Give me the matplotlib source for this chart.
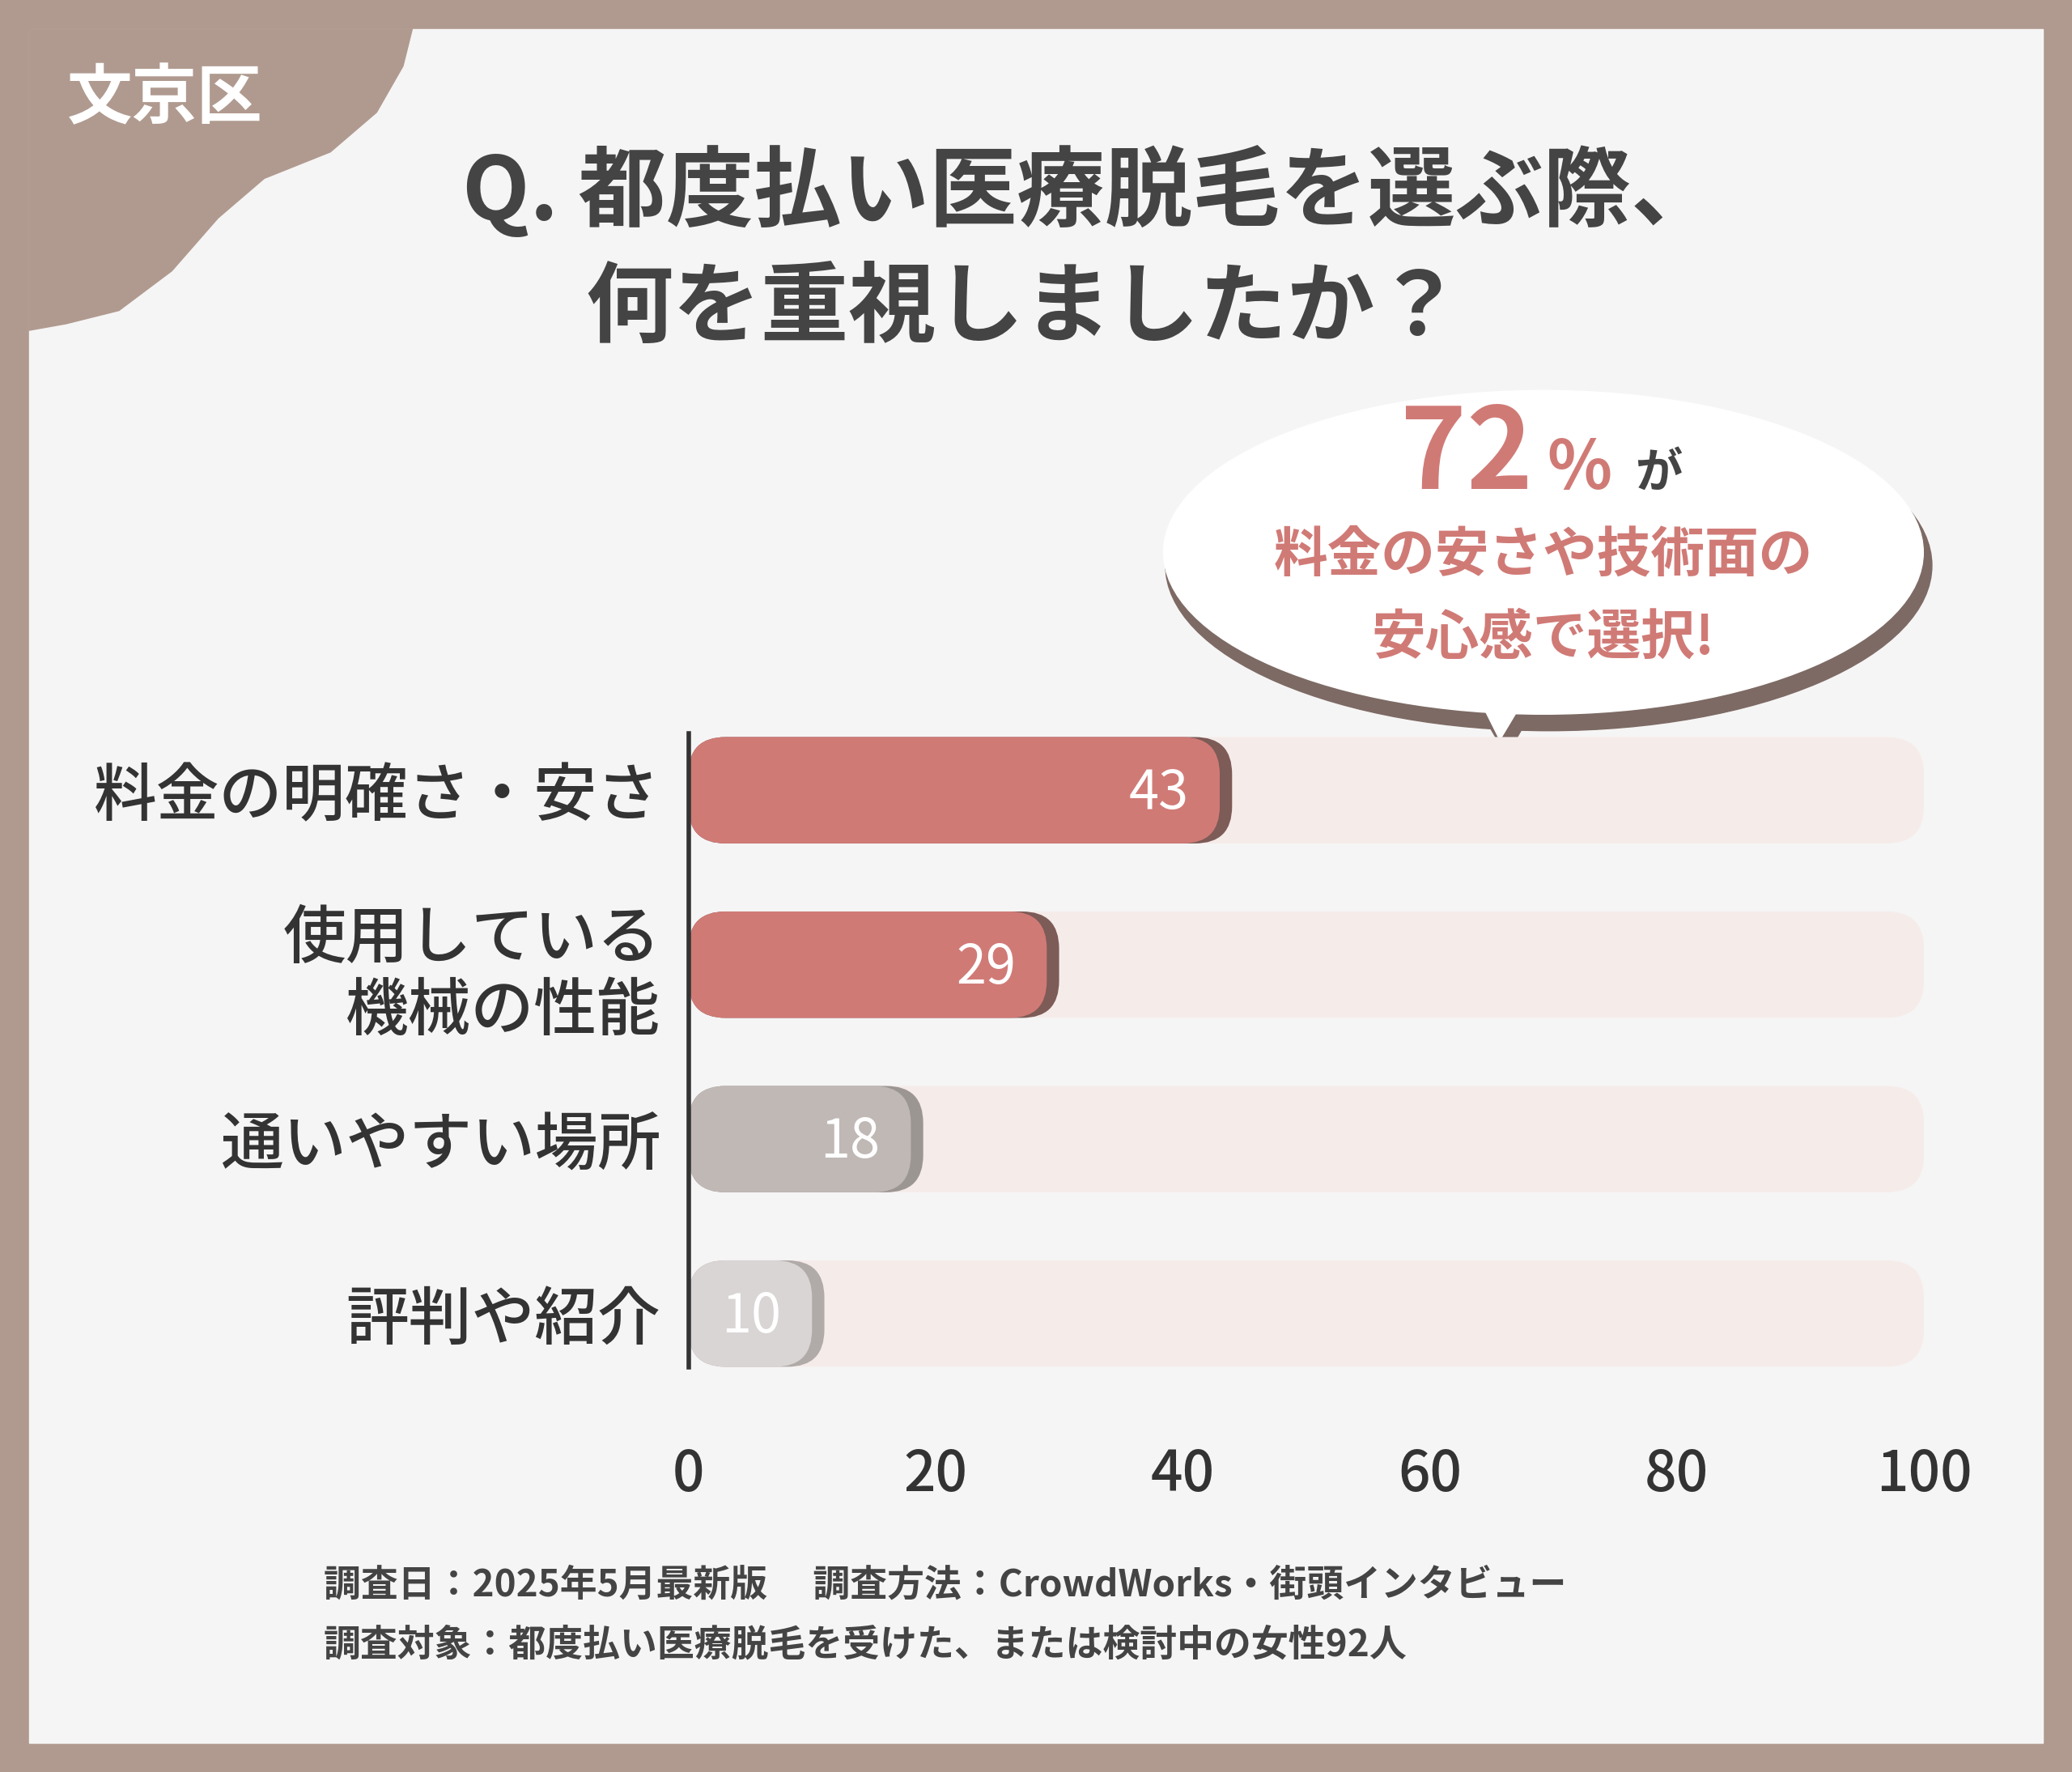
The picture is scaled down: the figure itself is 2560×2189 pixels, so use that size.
import matplotlib.pyplot as plt
from matplotlib.patches import FancyBboxPatch, Ellipse, Polygon, Rectangle
import numpy as np

plt.rcParams['font.family'] = 'Noto Sans CJK JP'

categories = ["料金の明確さ・安さ", "使用している\n機械の性能", "通いやすい場所", "評判や紹介"]
values = [43, 29, 18, 10]
colors = ["#d07a76", "#d07a76", "#bfb8b5", "#d9d5d4"]
edge_colors = ["#7d5b57", "#7d5b57", "#9c9693", "#b0aaa8"]
ticks = [0, 20, 40, 60, 80, 100]

W, H = 1568, 1341
fig = plt.figure(figsize=(25.6, 21.89), dpi=100)
fig.patch.set_facecolor("#b09a8f")

bg = fig.add_axes([0, 0, 1, 1])
bg.set_xlim(0, W)
bg.set_ylim(H, 0)
bg.axis("off")
bg.add_patch(Rectangle((22, 22), W - 44, H - 44, color="#f6f5f5"))
# corner blob
blob = Polygon([(22, 22), (312, 22), (305, 50), (285, 85), (250, 115), (200, 135), (165, 165),
                (130, 205), (90, 235), (50, 245), (22, 250)], closed=True, color="#b09a8f")
bg.add_patch(blob)
bg.text(125, 75, "文京区", fontsize=58, color="white", ha="center", va="center", fontweight="bold")
bg.text(825, 145, "Q. 都度払い医療脱毛を選ぶ際、", fontsize=78, color="#444444",
        ha="center", va="center", fontweight="bold")
bg.text(775, 235, "何を重視しましたか？", fontsize=78, color="#444444",
        ha="center", va="center", fontweight="bold")

# speech bubble
bg.add_patch(Ellipse((1172, 428), 580, 250, color="#7d6a64"))
bg.add_patch(Polygon([(1110, 520), (1170, 520), (1140, 572)], color="#7d6a64"))
bg.add_patch(Ellipse((1168, 418), 575, 245, color="white"))
bg.add_patch(Polygon([(1110, 510), (1165, 510), (1135, 560)], color="white"))
bg.text(1110, 345, "72", fontsize=100, color="#d07a76", ha="center", va="center", fontweight="bold")
bg.text(1195, 355, "%", fontsize=60, color="#d07a76", ha="center", va="center", fontweight="bold")
bg.text(1255, 358, "が", fontsize=42, color="#444444", ha="center", va="center", fontweight="bold")
bg.text(1168, 420, "料金の安さや技術面の", fontsize=48, color="#d07a76", ha="center", va="center",
        fontweight="bold")
bg.text(1168, 483, "安心感で選択!", fontsize=48, color="#d07a76", ha="center", va="center",
        fontweight="bold")

# footnote
bg.text(245, 1200, "調査日：2025年5月最新版　 調査方法：CrowdWorks・街頭インタビュー",
        fontsize=33, color="#444444", va="center", fontweight="bold")
bg.text(245, 1245, "調査対象：都度払い医療脱毛を受けた、または検討中の女性92人",
        fontsize=33, color="#444444", va="center", fontweight="bold")

# chart axes
ax = fig.add_axes([521 / W, 1 - 1035 / H, (1456 - 521) / W, 480 / H])
ax.set_facecolor("none")
ax.set_xlim(0, 100)
ax.set_ylim(3.31, -0.326)
asp = (935 / 100) / 132
h = 0.61
for i, (v, c, ec) in enumerate(zip(values, colors, edge_colors)):
    ax.add_patch(FancyBboxPatch((0, i - h / 2), 100, h, boxstyle="round,pad=0,rounding_size=3",
                                mutation_aspect=asp, color="#f5ecea", lw=0))
    ax.add_patch(FancyBboxPatch((0, i - h / 2), v + 1, h, boxstyle="round,pad=0,rounding_size=3",
                                mutation_aspect=asp, color=ec, lw=0))
    ax.add_patch(FancyBboxPatch((0, i - h / 2), v, h, boxstyle="round,pad=0,rounding_size=3",
                                mutation_aspect=asp, color=c, lw=0))
    ax.text(v - 2.5, i + 0.02, str(v), ha="right", va="center", fontsize=48, color="white")

ax.set_yticks(range(len(categories)))
ax.set_yticklabels(categories, fontsize=56, color="#333333", linespacing=1.15, fontweight="medium")
ax.set_xticks(ticks)
ax.set_xticklabels([str(t) for t in ticks], fontsize=50, color="#333333", fontweight="medium")
ax.tick_params(length=0, axis="y", pad=25)
ax.tick_params(length=0, axis="x", pad=70)
for s in ["top", "right", "bottom"]:
    ax.spines[s].set_visible(False)
ax.spines["left"].set_linewidth(4)
ax.spines["left"].set_color("#333333")

fig.savefig("out.png", dpi=100)
